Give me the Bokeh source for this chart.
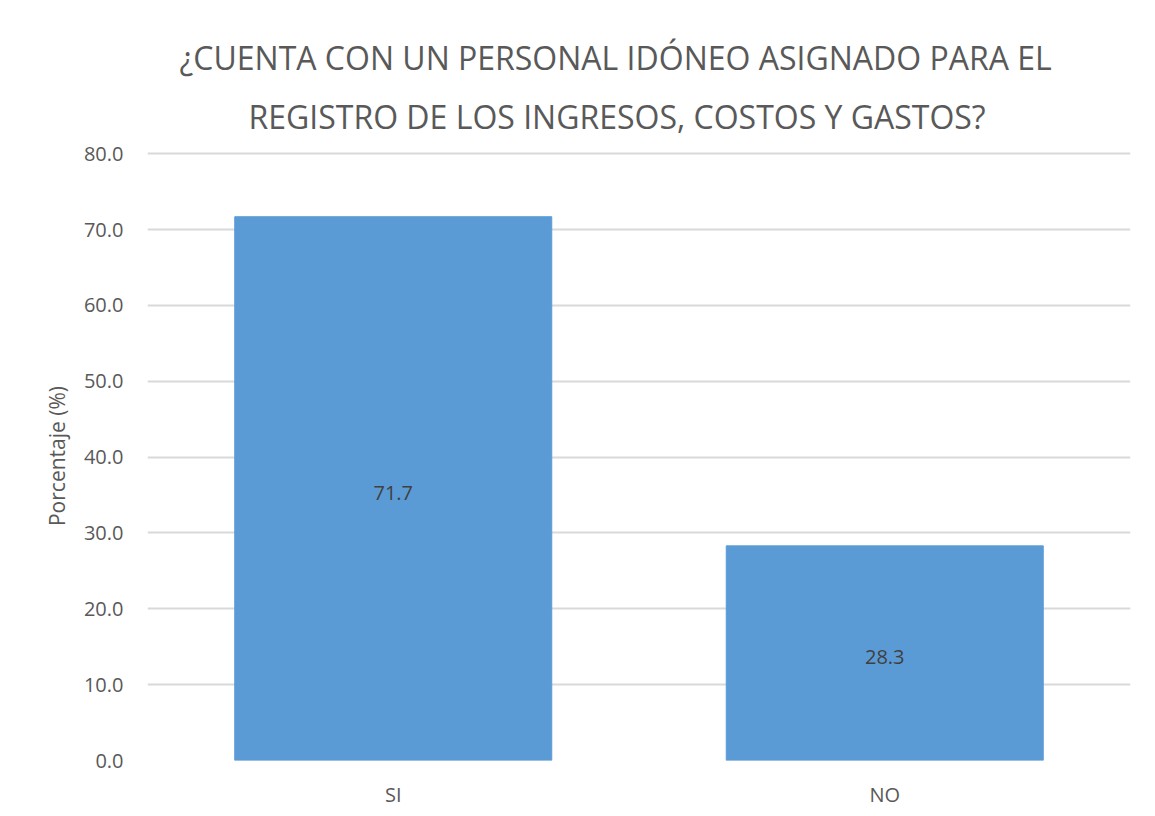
from bokeh.plotting import figure
from bokeh.models import ColumnDataSource, FactorRange, Range1d, FixedTicker, NumeralTickFormatter, Title
from bokeh.core.properties import value
from bokeh.embed import file_html
from bokeh.resources import INLINE

categories = ["SI", "NO"]
percentages = [71.7, 28.3]
value_labels = ["71.7", "28.3"]
y_ticks = [0, 10, 20, 30, 40, 50, 60, 70, 80]
title_lines = ["¿CUENTA CON UN PERSONAL IDÓNEO ASIGNADO PARA EL",
               "REGISTRO DE LOS INGRESOS, COSTOS Y GASTOS?"]
y_label = "Porcentaje (%)"

FONT = "Open Sans"
TXT = "#595959"

source = ColumnDataSource(data=dict(
    cat=categories,
    val=percentages,
    mid=[v / 2 for v in percentages],
    lab=value_labels,
))

W, H = 1150, 812
p = figure(
    x_range=FactorRange(*categories, range_padding=0),
    y_range=Range1d(0, 80.3),
    width=W, height=H,
    output_backend="svg", toolbar_location=None,
    min_border_left=147, min_border_right=W - 1130,
    min_border_top=151, min_border_bottom=H - 760,
)
p.title.visible = False
p.outline_line_color = None
p.background_fill_color = "white"
p.border_fill_color = "white"

p.vbar(x="cat", top="val", width=0.645, source=source,
       fill_color="#5B9BD5", line_color="#5B9BD5")

p.text(x="cat", y="mid", text="lab", source=source,
       text_align="center", text_baseline="middle", y_offset=4,
       text_font=value(FONT), text_font_size="20px", text_color="#404040")

# grid
p.xgrid.grid_line_color = None
p.ygrid.grid_line_color = "#d9d9d9"
p.ygrid.grid_line_width = 2
p.yaxis.ticker = FixedTicker(ticks=y_ticks)
p.yaxis.formatter = NumeralTickFormatter(format="0.0")

for ax in (p.xaxis[0], p.yaxis[0]):
    ax.axis_line_color = None
    ax.major_tick_line_color = None
    ax.minor_tick_line_color = None
    ax.major_tick_out = 0
    ax.major_tick_in = 0
    ax.major_label_text_font = FONT
    ax.major_label_text_font_size = "20px"
    ax.major_label_text_color = TXT

p.yaxis.major_label_standoff = 24
p.xaxis.major_label_standoff = 20
p.yaxis.axis_label = y_label
p.yaxis.axis_label_text_font = FONT
p.yaxis.axis_label_text_font_size = "21px"
p.yaxis.axis_label_text_font_style = "normal"
p.yaxis.axis_label_text_color = TXT
p.yaxis.axis_label_standoff = 10

# two-line title (first added sits closest to the plot frame)
title_offsets = [101, 32]
title_standoffs = [28, 0]
for line, off, so in zip(reversed(title_lines), title_offsets, title_standoffs):
    p.add_layout(Title(text=line, align="left", offset=off, standoff=so,
                       text_font=FONT, text_font_size="32px",
                       text_font_style="normal", text_color=TXT), "above")

open("out.html", "w").write(file_html(p, INLINE))
